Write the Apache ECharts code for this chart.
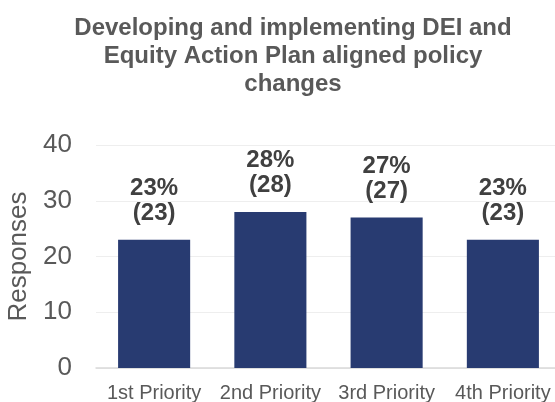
<!DOCTYPE html>
<html>
<head>
<meta charset="utf-8">
<script src="https://cdn.jsdelivr.net/npm/echarts@6/dist/echarts.min.js"></script>
<style>
html, body { margin: 0; padding: 0; background: #fff; }
#chart { width: 555px; height: 402px; }
</style>
</head>
<body>
<div id="chart"></div>
<script>
var categories = ['1st Priority', '2nd Priority', '3rd Priority', '4th Priority'];
var responses = [23, 28, 27, 23];
var percents = ['23%', '28%', '27%', '23%'];
var yTicks = [0, 10, 20, 30, 40];

var chart = echarts.init(document.getElementById('chart'));
var option = {
    animation: false,
    title: {
        text: 'Developing and implementing DEI and\nEquity Action Plan aligned policy\nchanges',
        left: 288,
        top: 9,
        textAlign: 'center',
        textStyle: {
            fontFamily: 'Liberation Sans',
            fontSize: 24,
            fontWeight: 'bold',
            color: '#595959',
            lineHeight: 28
        }
    },
    grid: {
        left: 96,
        right: -6,
        top: 145,
        bottom: 34,
        outerBoundsMode: 'none',
        containLabel: false
    },
    xAxis: {
        type: 'category',
        data: categories,
        axisTick: { show: false },
        axisLine: { lineStyle: { color: '#d9d9d9', width: 1.5 } },
        axisLabel: {
            interval: 0,
            hideOverlap: false,
            fontFamily: 'Liberation Sans',
            fontSize: 20,
            color: '#595959',
            margin: 15
        }
    },
    yAxis: {
        type: 'value',
        min: yTicks[0],
        max: yTicks[yTicks.length - 1],
        interval: 10,
        name: 'Responses',
        nameLocation: 'middle',
        nameGap: 63,
        nameTextStyle: {
            fontFamily: 'Liberation Sans',
            fontSize: 26,
            color: '#595959'
        },
        axisLine: { show: false },
        axisTick: { show: false },
        splitLine: { lineStyle: { color: '#eeeeee', width: 1 } },
        axisLabel: {
            fontFamily: 'Liberation Sans',
            fontSize: 26,
            color: '#595959',
            margin: 24
        }
    },
    series: [{
        type: 'bar',
        data: responses,
        barWidth: '62%',
        itemStyle: { color: '#283B71' },
        label: {
            show: true,
            position: 'top',
            distance: 14,
            fontFamily: 'Liberation Sans',
            fontSize: 24,
            fontWeight: 'bold',
            color: '#404040',
            lineHeight: 25,
            formatter: function (p) {
                return percents[p.dataIndex] + '\n(' + p.value + ')';
            }
        }
    }]
};
chart.setOption(option);
</script>
</body>
</html>
